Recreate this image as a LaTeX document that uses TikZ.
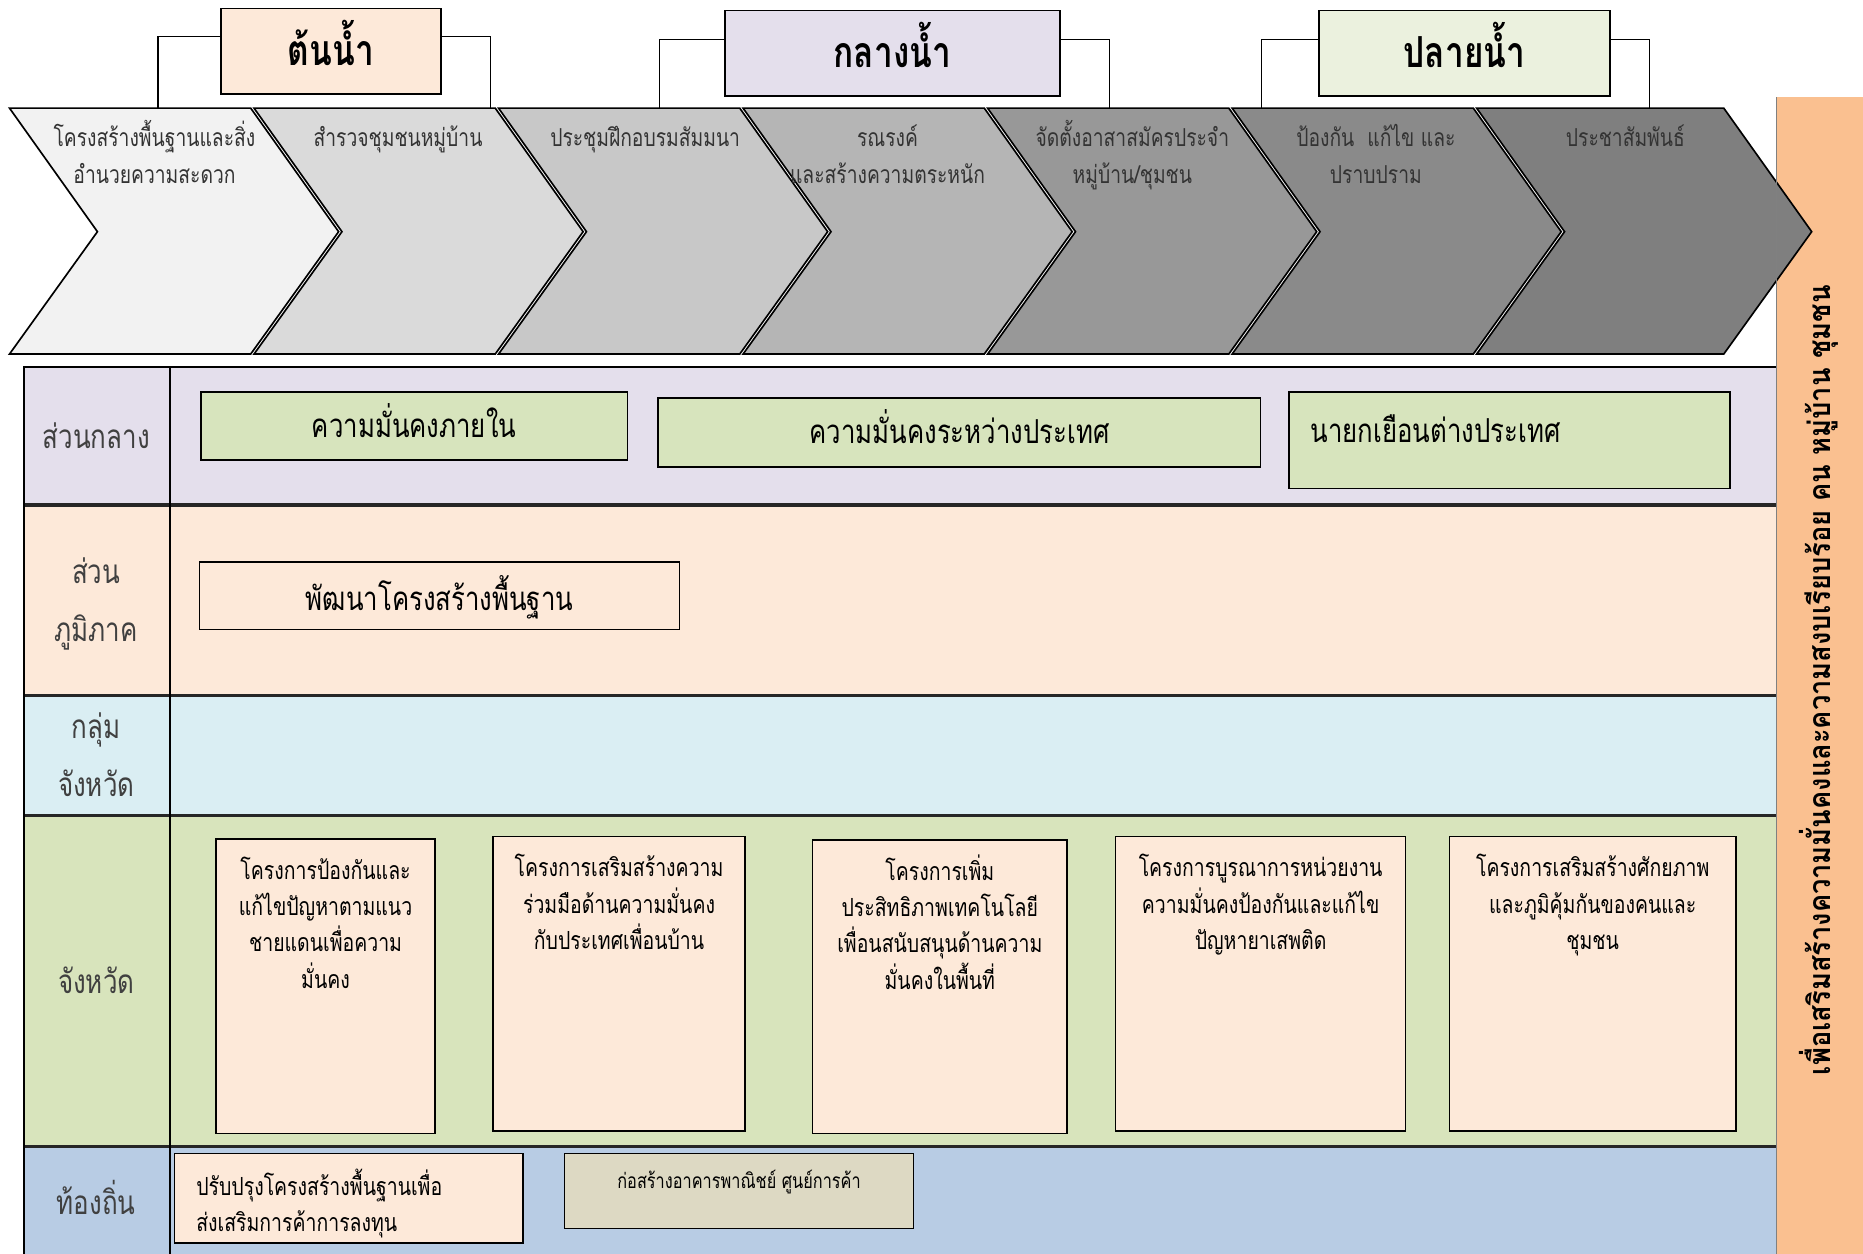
\documentclass[tikz,border=0pt]{standalone}
\usepackage{fontspec}
\newfontfamily\thai[Script=Thai,FakeStretch=0.78]{Loma}
\newfontfamily\thaib[Script=Thai,FakeStretch=0.9]{Loma}
\definecolor{peach}{HTML}{FDE9D9}
\definecolor{lav}{HTML}{E4DFEC}
\definecolor{paleg}{HTML}{EBF1DE}
\definecolor{boxg}{HTML}{D7E4BD}
\definecolor{rowg}{HTML}{D8E4BC}
\definecolor{rowb}{HTML}{DAEEF3}
\definecolor{rows}{HTML}{B8CCE4}
\definecolor{band}{HTML}{FAC090}
\definecolor{khaki}{HTML}{DDD9C3}
\definecolor{cA}{HTML}{F2F2F2}
\definecolor{cB}{HTML}{DADADA}
\definecolor{cC}{HTML}{C8C8C8}
\definecolor{cD}{HTML}{B5B5B5}
\definecolor{cE}{HTML}{989898}
\definecolor{cF}{HTML}{8A8A8A}
\definecolor{cG}{HTML}{7F7F7F}
\newcommand\tst{\rule{0pt}{1.5em}}
\newcommand\mychev[3]{%
  \filldraw[fill=#2, draw=black, line width=1.4pt, line join=miter]
    (#1,91) -- ++(#3,0) -- ++(74,104) -- ++(-74,103) -- ++(-#3,0) -- ++(74,-103) -- cycle;}
\begin{document}
\begin{tikzpicture}[x=1pt,y=-1pt,
  chevtext/.style={font=\thai\fontsize{20.8}{31}\selectfont, text=black!80, align=center, inner sep=0pt, anchor=north},
  lbl/.style={font=\thai\fontsize{28}{49}\selectfont, text=black!75, align=center, inner sep=0pt, anchor=north},
  ttl/.style={draw=black, line width=1.3pt, inner sep=0pt, text height=28pt, text depth=4pt, font=\thai\bfseries\fontsize{36}{40}\selectfont},
  gbox/.style={draw=black, line width=1.3pt, fill=boxg, inner sep=0pt, font=\thai\fontsize{27.8}{30}\selectfont},
  pbox/.style={draw=black, line width=1.3pt, fill=peach, inner sep=0pt},
  ptext/.style={font=\thai\fontsize{21}{30.5}\selectfont, align=center, inner sep=0pt, anchor=north},
  brk/.style={draw=black, line width=1.1pt},
  sep/.style={draw=black!85, line width=2.6pt}]
\useasboundingbox (0,0) rectangle (1568,1055);
% right band
\fill[band] (1495,82) rectangle (1568,1055);
% title boxes
\node[ttl, fill=peach, minimum width=185pt, minimum height=72pt] (t1) at (278.5,43) {ต้นน้ำ};
\node[ttl, fill=lav, minimum width=282pt, minimum height=72pt] (t2) at (751,45) {กลางน้ำ};
\node[ttl, fill=paleg, minimum width=245pt, minimum height=72pt] (t3) at (1232.5,45) {ปลายน้ำ};
\coordinate (f1) at (133,91); \coordinate (g1) at (413,91);
\coordinate (f2) at (555,91); \coordinate (g2) at (934,91);
\coordinate (f3) at (1062,91); \coordinate (g3) at (1388,91);
\draw[brk] ([yshift=12pt]t1.west) -| (f1);
\draw[brk] ([yshift=12pt]t1.east) -| (g1);
\draw[brk] ([yshift=12pt]t2.west) -| (f2);
\draw[brk] ([yshift=12pt]t2.east) -| (g2);
\draw[brk] ([yshift=12pt]t3.west) -| (f3);
\draw[brk] ([yshift=12pt]t3.east) -| (g3);
% chevrons
\mychev{8}{cA}{203}
\mychev{213.8}{cB}{203}
\mychev{419.6}{cC}{203}
\mychev{625.4}{cD}{203}
\mychev{831.2}{cE}{203}
\mychev{1037}{cF}{203}
\mychev{1242.8}{cG}{208}
\node[chevtext] (s1) at (130,92.3) {\tst โครงสร้างพื้นฐานและสิ่ง\\อำนวยความสะดวก};
\node[chevtext] (s2) at (335,92.3) {\tst สำรวจชุมชนหมู่บ้าน};
\node[chevtext] (s3) at (543,92.3) {\tst ประชุมฝึกอบรมสัมมนา};
\node[chevtext] (s4) at (747,92.3) {\tst รณรงค์\\และสร้างความตระหนัก};
\node[chevtext] (s5) at (953,92.3) {\tst จัดตั้งอาสาสมัครประจำ\\หมู่บ้าน/ชุมชน};
\node[chevtext] (s6) at (1158,92.3) {\tst ป้องกัน~~แก้ไข และ\\ปราบปราม};
\node[chevtext] (s7) at (1368,92.3) {\tst ประชาสัมพันธ์};
% table rows
\fill[lav] (20,309) rectangle (1495,425);
\fill[peach] (20,425) rectangle (1495,585);
\fill[rowb] (20,585) rectangle (1495,686);
\fill[rowg] (20,686) rectangle (1495,965);
\fill[rows] (20,965) rectangle (1495,1055);
\draw[sep] (20,425) -- (1495,425);
\draw[sep] (20,585) -- (1495,585);
\draw[sep] (20,686) -- (1495,686);
\draw[sep] (20,965) -- (1495,965);
\draw[black, line width=1.6pt] (20,1055) -- (20,309) -- (1495,309);
\draw[black, line width=2.2pt] (143,309) -- (143,1055);
\draw[black!50, line width=0.6pt] (1495,82) -- (1495,1055);
% row labels
\node[lbl] (r1) at (81,335) {\tst ส่วนกลาง};
\node[lbl] (r2) at (81,449) {\tst ส่วน\\ภูมิภาค};
\node[lbl] (r3) at (81,579) {\tst กลุ่ม\\จังหวัด};
\node[lbl] (r4) at (81,794) {\tst จังหวัด};
\node[lbl] (r5) at (81,980) {\tst ท้องถิ่น};
% central boxes
\node[gbox, text height=24pt, text depth=5pt, minimum width=359pt, minimum height=57pt] (c1) at (348.5,358.5) {ความมั่นคงภายใน};
\node[gbox, text height=24pt, text depth=5pt, minimum width=507pt, minimum height=58pt] (c2) at (807.5,364) {ความมั่นคงระหว่างประเทศ};
\node[gbox, minimum width=371pt, minimum height=81pt] (c3) at (1270.5,370.5) {};
\node[font=\thai\fontsize{27.8}{30}\selectfont, inner sep=0pt, anchor=west] (c3t) at (1103,361) {นายกเยือนต่างประเทศ};
% regional box
\node[gbox, fill=peach, text height=27pt, text depth=2pt, minimum width=404pt, minimum height=57pt] (g1b) at (370,501.5) {พัฒนาโครงสร้างพื้นฐาน};
% provincial boxes
\node[pbox, minimum width=184pt, minimum height=248pt] (p1) at (274,830) {};
\node[pbox, minimum width=212pt, minimum height=248pt] (p2) at (521,828) {};
\node[pbox, minimum width=214pt, minimum height=247pt] (p3) at (791,830.5) {};
\node[pbox, minimum width=244pt, minimum height=248pt] (p4) at (1061,828) {};
\node[pbox, minimum width=241pt, minimum height=248pt] (p5) at (1340.5,828) {};
\node[ptext] (p1t) at ([yshift=-3pt]p1.north) {\tst โครงการป้องกันและ\\แก้ไขปัญหาตามแนว\\ชายแดนเพื่อความ\\มั่นคง};
\node[ptext] (p2t) at ([yshift=-3pt]p2.north) {\tst โครงการเสริมสร้างความ\\ร่วมมือด้านความมั่นคง\\กับประเทศเพื่อนบ้าน};
\node[ptext] (p3t) at ([yshift=-3pt]p3.north) {\tst โครงการเพิ่ม\\ประสิทธิภาพเทคโนโลยี\\เพื่อนสนับสนุนด้านความ\\มั่นคงในพื้นที่};
\node[ptext] (p4t) at ([yshift=-3pt]p4.north) {\tst โครงการบูรณาการหน่วยงาน\\ความมั่นคงป้องกันและแก้ไข\\ปัญหายาเสพติด};
\node[ptext] (p5t) at ([yshift=-3pt]p5.north) {\tst โครงการเสริมสร้างศักยภาพ\\และภูมิคุ้มกันของคนและ\\ชุมชน};
% local boxes
\node[pbox, minimum width=293pt, minimum height=75pt] (l1) at (293.5,1008.5) {};
\node[font=\thai\fontsize{21}{30}\selectfont, align=left, inner sep=0pt, anchor=north west] (l1t) at (165,974.5) {\tst ปรับปรุงโครงสร้างพื้นฐานเพื่อ\\ส่งเสริมการค้าการลงทุน};
\node[pbox, fill=khaki, minimum width=294pt, minimum height=63pt] (l2) at (622,1002.5) {};
\node[font=\thai\fontsize{17.6}{20}\selectfont, inner sep=0pt] (l2t) at (622,995) {ก่อสร้างอาคารพาณิชย์ ศูนย์การค้า};
% vertical band text
\node[font=\thaib\bfseries\fontsize{25.5}{28}\selectfont, rotate=90, inner sep=0pt] (v) at (1531,572.5) {เพื่อเสริมสร้างความมั่นคงและความสงบเรียบร้อย คน หมู่บ้าน ชุมชน};
\end{tikzpicture}
\end{document}
